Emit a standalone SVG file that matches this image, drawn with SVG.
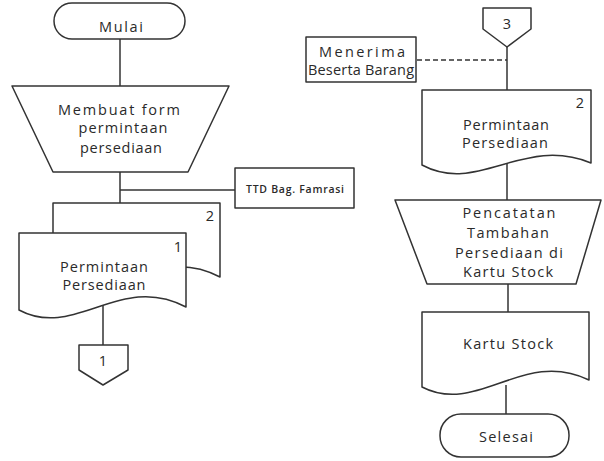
<svg xmlns="http://www.w3.org/2000/svg" width="604" height="461" viewBox="0 0 604 461">
<style>
.s{fill:#fff;stroke:#333;stroke-width:1.5;stroke-linejoin:round}
.c{fill:none;stroke:#333;stroke-width:1.5}
.d{stroke-dasharray:5,3}
text{font-family:"Open Sans","Liberation Sans",Arial,sans-serif;font-size:14.5px;fill:#2a2a2a;text-anchor:middle}
.sm{font-size:10.5px;font-weight:600}
</style>
<rect width="604" height="461" fill="#fff"/>
<g id="connectors">
<line class="c" x1="120" y1="39" x2="120" y2="86"/>
<line class="c" x1="120" y1="172" x2="120" y2="204"/>
<line class="c" x1="120" y1="190" x2="235" y2="190"/>
<line class="c" x1="103" y1="300" x2="103" y2="345"/>
<line class="c" x1="507" y1="47" x2="507" y2="90"/>
<line class="c d" x1="417" y1="60" x2="507" y2="60"/>
<line class="c" x1="507" y1="160" x2="507" y2="200"/>
<line class="c" x1="508" y1="284" x2="508" y2="312"/>
<line class="c" x1="506" y1="385" x2="506" y2="414"/>
</g>
<g id="mulai">
<rect class="s" x="54" y="3" width="131" height="36" rx="18"/>
<text x="121" y="32" textLength="44">Mulai</text>
</g>
<g id="membuat-form">
<polygon class="s" points="12,86 229,86 188,172 53,172"/>
<text x="119" y="115" textLength="122">Membuat form</text>
<text x="123" y="133" textLength="89">permintaan</text>
<text x="121" y="153" textLength="82">persediaan</text>
</g>
<g id="ttd">
<rect class="s" x="235" y="168" width="119" height="40"/>
<text class="sm" x="295" y="193" textLength="98">TTD Bag. Famrasi</text>
</g>
<g id="doc-2">
<path class="s" d="M53,203 H220 V277 C154,242 109,310 53,280 Z"/>
<text x="210" y="221">2</text>
</g>
<g id="doc-1">
<path class="s" d="M19,233 H186 V307 C120,272 75,340 19,310 Z"/>
<text x="178" y="252">1</text>
<text x="104" y="272" textLength="88">Permintaan</text>
<text x="104" y="290" textLength="83">Persediaan</text>
</g>
<g id="offpage-1">
<polygon class="s" points="79,345 128,345 128,370 103,385 79,370"/>
<text x="103" y="366">1</text>
</g>
<g id="offpage-3">
<polygon class="s" points="483,8 531,8 531,29 507,47 483,29"/>
<text x="507" y="29">3</text>
</g>
<g id="menerima">
<rect class="s" x="306" y="37" width="110" height="45"/>
<text x="362" y="57" textLength="86">Menerima</text>
<text x="361" y="75" textLength="106">Beserta Barang</text>
</g>
<g id="doc-right">
<path class="s" d="M422,90 H591 V163 C523,135 478,195 422,165 Z"/>
<text x="580" y="108">2</text>
<text x="506" y="130" textLength="86">Permintaan</text>
<text x="505" y="148" textLength="86">Persediaan</text>
</g>
<g id="pencatatan">
<polygon class="s" points="395,200 601,200 576,284 427,284"/>
<text x="509" y="218" textLength="93">Pencatatan</text>
<text x="508" y="238" textLength="82">Tambahan</text>
<text x="509" y="258" textLength="108">Persediaan di</text>
<text x="508" y="277" textLength="90">Kartu Stock</text>
</g>
<g id="kartu-stock">
<path class="s" d="M422,312 H589 V380 C523,348 478,416 422,387 Z"/>
<text x="508" y="349" textLength="90">Kartu Stock</text>
</g>
<g id="selesai">
<rect class="s" x="440" y="414" width="129" height="43" rx="21"/>
<text x="506" y="442" textLength="54">Selesai</text>
</g>
</svg>
